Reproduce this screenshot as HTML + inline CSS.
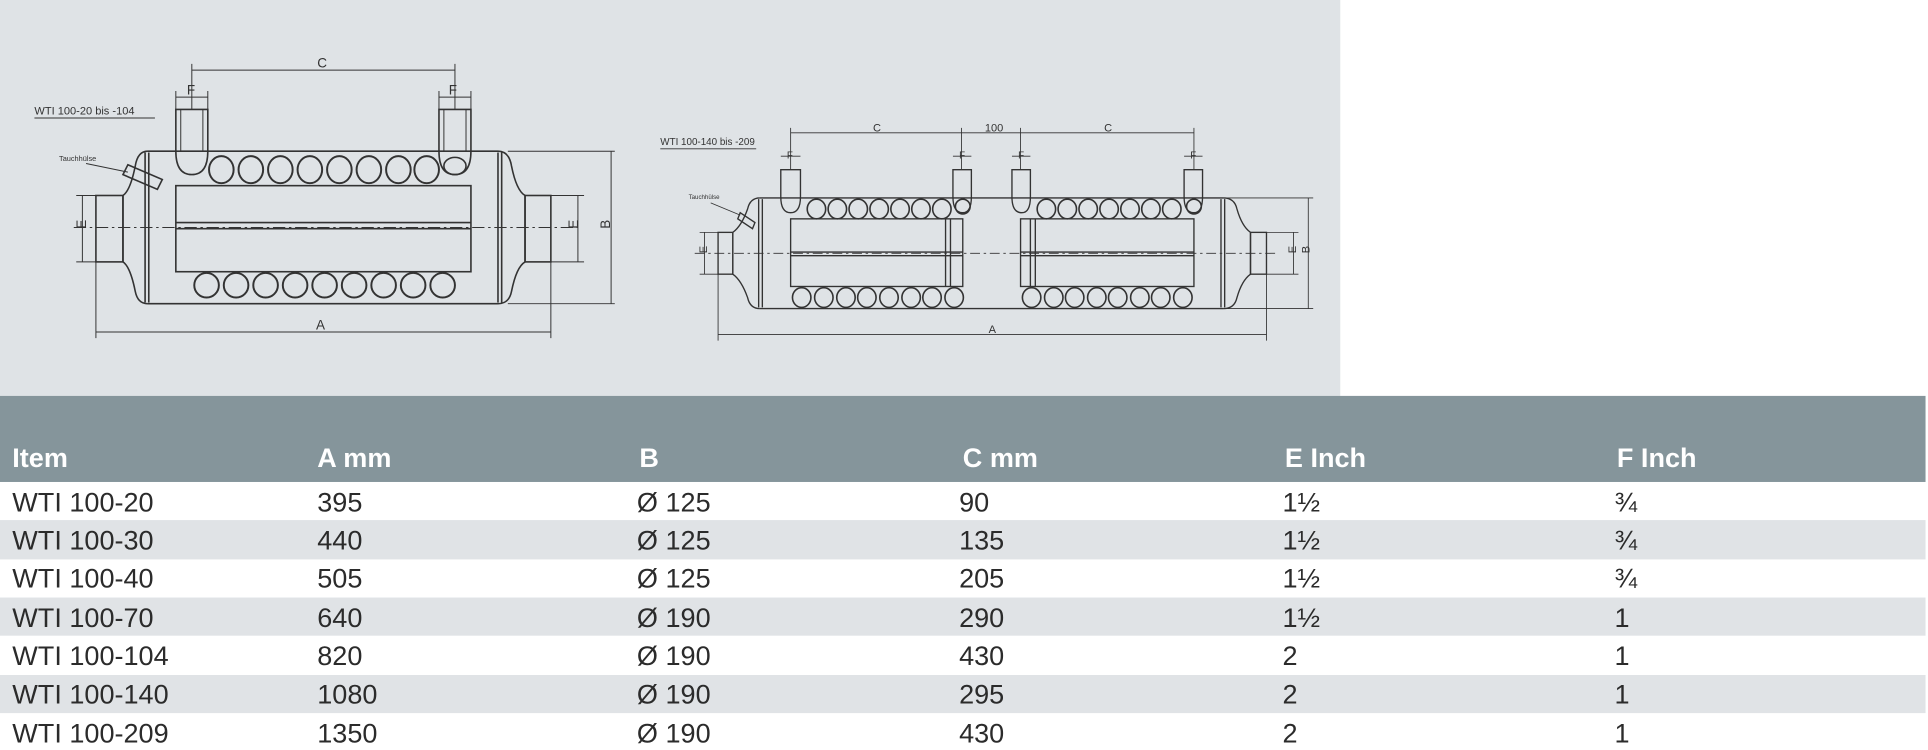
<!DOCTYPE html>
<html><head><meta charset="utf-8"><style>
html,body{margin:0;padding:0;background:#fff;}
svg{display:block;}
</style></head><body>
<svg width="1928" height="750" viewBox="0 0 1568 610" preserveAspectRatio="none" xmlns="http://www.w3.org/2000/svg">
<rect x="0" y="0" width="1568" height="610" fill="#fff"/>
<rect x="0" y="0" width="1090" height="322" fill="#dfe3e6"/>
<!-- table -->
<rect x="0" y="322" width="1566" height="70" fill="#85959b"/>
<rect x="0" y="423" width="1566" height="32" fill="#e0e3e6"/>
<rect x="0" y="486" width="1566" height="31" fill="#e0e3e6"/>
<rect x="0" y="549" width="1566" height="31" fill="#e0e3e6"/>
<g font-family="Liberation Sans, sans-serif" font-size="22" font-weight="bold" fill="#fff">
<text x="10" y="380">Item</text><text x="258" y="380">A mm</text><text x="520" y="380">B</text><text x="783" y="380">C mm</text><text x="1045" y="380">E Inch</text><text x="1315" y="380">F Inch</text>
</g>
<g font-family="Liberation Sans, sans-serif" font-size="22" fill="#2b2b2b">
<text x="10" y="416">WTI 100-20</text><text x="258" y="416">395</text><text x="518" y="416">Ø 125</text><text x="780" y="416">90</text><text x="1043" y="416">1½</text><text x="1313" y="416">¾</text>
<text x="10" y="447">WTI 100-30</text><text x="258" y="447">440</text><text x="518" y="447">Ø 125</text><text x="780" y="447">135</text><text x="1043" y="447">1½</text><text x="1313" y="447">¾</text>
<text x="10" y="478">WTI 100-40</text><text x="258" y="478">505</text><text x="518" y="478">Ø 125</text><text x="780" y="478">205</text><text x="1043" y="478">1½</text><text x="1313" y="478">¾</text>
<text x="10" y="510">WTI 100-70</text><text x="258" y="510">640</text><text x="518" y="510">Ø 190</text><text x="780" y="510">290</text><text x="1043" y="510">1½</text><text x="1313" y="510">1</text>
<text x="10" y="541">WTI 100-104</text><text x="258" y="541">820</text><text x="518" y="541">Ø 190</text><text x="780" y="541">430</text><text x="1043" y="541">2</text><text x="1313" y="541">1</text>
<text x="10" y="572">WTI 100-140</text><text x="258" y="572">1080</text><text x="518" y="572">Ø 190</text><text x="780" y="572">295</text><text x="1043" y="572">2</text><text x="1313" y="572">1</text>
<text x="10" y="604">WTI 100-209</text><text x="258" y="604">1350</text><text x="518" y="604">Ø 190</text><text x="780" y="604">430</text><text x="1043" y="604">2</text><text x="1313" y="604">1</text>
</g>

<!-- LEFT DRAWING -->
<g fill="none" stroke="#333" stroke-width="1.3">
<path d="M120 123 L405 123 M120 247 L405 247"/>
<path d="M120 123 Q112 123 110 135 Q106 155 100 159 L100 213 Q106 217 110 237 Q112 247 120 247"/>
<path d="M405 123 Q414 123 416 135 Q420 155 427 159 L427 213 Q420 217 416 237 Q414 247 405 247"/>
<path d="M118 124 V246 M121 124 V246 M405 124 V246 M408 124 V246"/>
<rect x="78" y="159" width="22" height="54"/>
<rect x="427" y="159" width="21" height="54"/>
<rect x="143" y="151" width="240" height="70"/>
<path d="M143 181 H383 M143 186 H383"/>
<path d="M143 89 V123 Q143 142 156 142 Q169 142 169 123 V89 Z"/>
<path d="M357 89 V123 Q357 142 370 142 Q383 142 383 123 V89 Z"/>
<path d="M147 89 V123 M165 89 V123 M361 89 V123 M379 89 V123" stroke-width="0.8"/>
<ellipse cx="370" cy="135" rx="9" ry="7"/>
<path d="M104 134 L132 146 L128 154 L100 142 Z"/>
<g stroke-width="1.6">
<ellipse cx="180" cy="138" rx="10" ry="11"/><ellipse cx="204" cy="138" rx="10" ry="11"/><ellipse cx="228" cy="138" rx="10" ry="11"/><ellipse cx="252" cy="138" rx="10" ry="11"/><ellipse cx="276" cy="138" rx="10" ry="11"/><ellipse cx="300" cy="138" rx="10" ry="11"/><ellipse cx="324" cy="138" rx="10" ry="11"/><ellipse cx="347" cy="138" rx="10" ry="11"/>
<ellipse cx="168" cy="232" rx="10" ry="10"/><ellipse cx="192" cy="232" rx="10" ry="10"/><ellipse cx="216" cy="232" rx="10" ry="10"/><ellipse cx="240" cy="232" rx="10" ry="10"/><ellipse cx="264" cy="232" rx="10" ry="10"/><ellipse cx="288" cy="232" rx="10" ry="10"/><ellipse cx="312" cy="232" rx="10" ry="10"/><ellipse cx="336" cy="232" rx="10" ry="10"/><ellipse cx="360" cy="232" rx="10" ry="10"/>
</g>
</g>
<g fill="none" stroke="#333" stroke-width="0.8">
<path d="M60 185 H470" stroke-dasharray="10 3 2 3"/>
<path d="M156 57 H370 M156 52 V89 M370 52 V89"/>
<path d="M143 79 H169 M143 74 V89 M169 74 V89 M357 79 H383 M357 74 V89 M383 74 V89"/>
<path d="M78 270 H448 M78 213 V275 M448 213 V275"/>
<path d="M497 123 V247 M413 123 H500 M413 247 H500"/>
<path d="M67 159 V213 M62 159 H78 M62 213 H78 M470 159 V213 M448 159 H475 M448 213 H475"/>
<path d="M28 96 H126 M70 133 L104 140"/>
</g>
<g font-family="Liberation Sans, sans-serif" fill="#333">
<text x="258" y="55" font-size="11">C</text>
<text x="152" y="77" font-size="11">F</text><text x="365" y="77" font-size="11">F</text>
<text x="257" y="268" font-size="11">A</text>
<text x="28" y="93" font-size="9">WTI 100-20 bis -104</text>
<text x="48" y="131" font-size="6">Tauchhülse</text>
<text x="66" y="190" font-size="11" transform="rotate(-90 66 186)">E</text>
<text x="466" y="190" font-size="11" transform="rotate(-90 466 186)">E</text>
<text x="492" y="190" font-size="11" transform="rotate(-90 492 186)">B</text>
</g>

<!-- RIGHT DRAWING -->
<g fill="none" stroke="#333" stroke-width="1.1">
<path d="M618 161 L995 161 M618 251 L995 251"/>
<path d="M618 161 Q610 161 608 170 Q603 184 596 189 L596 223 Q603 228 608 242 Q610 251 618 251"/>
<path d="M995 161 Q1004 161 1006 170 Q1010 184 1017 189 L1017 223 Q1010 228 1006 242 Q1004 251 995 251"/>
<path d="M617 162 V250 M620 162 V250 M993 162 V250 M996 162 V250"/>
<rect x="584" y="189" width="12" height="34"/>
<rect x="1017" y="189" width="13" height="34"/>
<rect x="643" y="178" width="140" height="55"/>
<rect x="830" y="178" width="141" height="55"/>
<path d="M769 178 V233 M773 178 V233 M838 178 V233 M842 178 V233"/>
<path d="M643 205 H783 M643 208 H783 M830 205 H971 M830 208 H971"/>
<path d="M635 138 V160 Q635 173 643 173 Q651 173 651 160 V138 Z"/>
<path d="M775 138 V160 Q775 173 783 173 Q790 173 790 160 V138 Z"/>
<path d="M823 138 V160 Q823 173 831 173 Q838 173 838 160 V138 Z"/>
<path d="M963 138 V160 Q963 173 971 173 Q978 173 978 160 V138 Z"/>
<path d="M602 173 L614 181 L612 186 L600 178 Z"/>
<g stroke-width="1.3">
<ellipse cx="664" cy="170" rx="7.5" ry="8"/><ellipse cx="681" cy="170" rx="7.5" ry="8"/><ellipse cx="698" cy="170" rx="7.5" ry="8"/><ellipse cx="715" cy="170" rx="7.5" ry="8"/><ellipse cx="732" cy="170" rx="7.5" ry="8"/><ellipse cx="749" cy="170" rx="7.5" ry="8"/><ellipse cx="766" cy="170" rx="7.5" ry="8"/><ellipse cx="783" cy="168" rx="6" ry="6"/>
<ellipse cx="851" cy="170" rx="7.5" ry="8"/><ellipse cx="868" cy="170" rx="7.5" ry="8"/><ellipse cx="885" cy="170" rx="7.5" ry="8"/><ellipse cx="902" cy="170" rx="7.5" ry="8"/><ellipse cx="919" cy="170" rx="7.5" ry="8"/><ellipse cx="936" cy="170" rx="7.5" ry="8"/><ellipse cx="953" cy="170" rx="7.5" ry="8"/><ellipse cx="971" cy="168" rx="6" ry="6"/>
<ellipse cx="652" cy="242" rx="7.5" ry="8"/><ellipse cx="670" cy="242" rx="7.5" ry="8"/><ellipse cx="688" cy="242" rx="7.5" ry="8"/><ellipse cx="705" cy="242" rx="7.5" ry="8"/><ellipse cx="723" cy="242" rx="7.5" ry="8"/><ellipse cx="741" cy="242" rx="7.5" ry="8"/><ellipse cx="758" cy="242" rx="7.5" ry="8"/><ellipse cx="776" cy="242" rx="7.5" ry="8"/>
<ellipse cx="839" cy="242" rx="7.5" ry="8"/><ellipse cx="857" cy="242" rx="7.5" ry="8"/><ellipse cx="874" cy="242" rx="7.5" ry="8"/><ellipse cx="892" cy="242" rx="7.5" ry="8"/><ellipse cx="909" cy="242" rx="7.5" ry="8"/><ellipse cx="927" cy="242" rx="7.5" ry="8"/><ellipse cx="944" cy="242" rx="7.5" ry="8"/><ellipse cx="962" cy="242" rx="7.5" ry="8"/>
</g>
</g>
<g fill="none" stroke="#333" stroke-width="0.7">
<path d="M565 206 H1040" stroke-dasharray="8 3 2 3"/>
<path d="M643 108 H971 M643 104 V138 M782 104 V138 M830 104 V138 M971 104 V138"/>
<path d="M635 127 H651 M775 127 H790 M823 127 H838 M963 127 H978"/>
<path d="M584 272 H1030 M584 223 V277 M1030 223 V277"/>
<path d="M1064 161 V251 M995 161 H1068 M995 251 H1068"/>
<path d="M573 189 V223 M569 189 H584 M569 223 H584 M1052 189 V223 M1030 189 H1056 M1030 223 H1056"/>
<path d="M537 121 H615 M578 165 L602 175"/>
</g>
<g font-family="Liberation Sans, sans-serif" fill="#333">
<text x="710" y="107" font-size="9">C</text><text x="801" y="107" font-size="9">100</text><text x="898" y="107" font-size="9">C</text>
<text x="640" y="129" font-size="8">F</text><text x="780" y="129" font-size="8">F</text><text x="828" y="129" font-size="8">F</text><text x="968" y="129" font-size="8">F</text>
<text x="804" y="271" font-size="9">A</text>
<text x="537" y="118" font-size="8">WTI 100-140 bis -209</text>
<text x="560" y="162" font-size="5">Tauchhülse</text>
<text x="572" y="209" font-size="9" transform="rotate(-90 572 206)">E</text>
<text x="1051" y="209" font-size="9" transform="rotate(-90 1051 206)">E</text>
<text x="1062" y="209" font-size="9" transform="rotate(-90 1062 206)">B</text>
</g>
</svg>
</body></html>
